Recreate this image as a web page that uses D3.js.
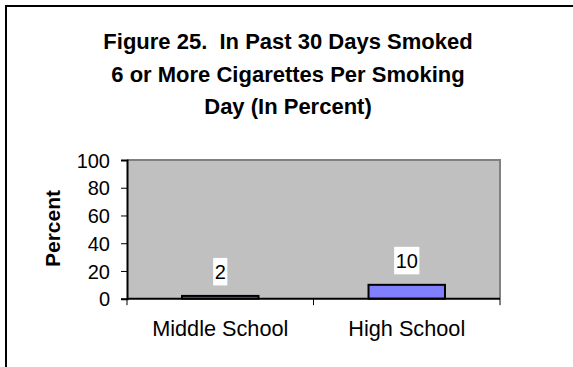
<!DOCTYPE html>
<html>
<head>
<meta charset="utf-8">
<script src="https://cdn.jsdelivr.net/npm/d3@7"></script>
<style>
  html, body { margin: 0; padding: 0; background: #fff; }
  svg { display: block; font-family: "Liberation Sans", Arial, sans-serif; }
  .title { white-space: pre; }
</style>
</head>
<body>
<svg id="chart" width="573" height="367"></svg>
<script>
// Chart data
const titleLines = [
  "Figure 25.  In Past 30 Days Smoked",
  "6 or More Cigarettes Per Smoking",
  "Day (In Percent)"
];
const categories = ["Middle School", "High School"];
const values = [2, 10];
const yTicks = [0, 20, 40, 60, 80, 100];
const yLabel = "Percent";

const svg = d3.select("#chart");
const W = 573, H = 367;

// Outer frame (top and left edges visible)
svg.append("rect")
  .attr("x", 6).attr("y", 6)
  .attr("width", W + 10).attr("height", H + 10)
  .attr("fill", "#fff")
  .attr("stroke", "#000")
  .attr("stroke-width", 2);

// Title
svg.append("text")
  .attr("class", "title")
  .attr("text-anchor", "middle")
  .attr("font-weight", "bold")
  .attr("font-size", 22)
  .attr("fill", "#000")
  .selectAll("tspan")
  .data(titleLines)
  .join("tspan")
  .attr("x", 288)
  .attr("y", (d, i) => 49 + i * 32.5)
  .text(d => d);

// Plot area
const plot = { left: 127, right: 500, top: 160, bottom: 298.7 };

const x = d3.scaleBand()
  .domain(categories)
  .range([plot.left, plot.right])
  .paddingInner(0.59)
  .paddingOuter(0.295);

const y = d3.scaleLinear()
  .domain([0, 100])
  .range([plot.bottom, plot.top]);

svg.append("rect")
  .attr("x", plot.left).attr("y", plot.top)
  .attr("width", plot.right - plot.left)
  .attr("height", plot.bottom - plot.top)
  .attr("fill", "#c0c0c0");

// Gray plot border on top and right
svg.append("path")
  .attr("d", `M${plot.left},${plot.top}H${plot.right}V${plot.bottom}`)
  .attr("fill", "none")
  .attr("stroke", "#808080")
  .attr("stroke-width", 2);

// Bars
svg.append("g")
  .selectAll("rect")
  .data(values)
  .join("rect")
  .attr("x", (d, i) => x(categories[i]))
  .attr("y", d => y(d))
  .attr("width", x.bandwidth())
  .attr("height", d => y(0) - y(d))
  .attr("fill", "#8080ff")
  .attr("stroke", "#000")
  .attr("stroke-width", 2);

// Value labels with white backing
const labels = svg.append("g")
  .selectAll("g")
  .data(values)
  .join("g")
  .attr("transform", (d, i) => `translate(${x(categories[i]) + x.bandwidth() / 2},${y(d) - 16.5})`);

labels.append("text")
  .attr("text-anchor", "middle")
  .attr("font-size", 20)
  .attr("fill", "#000")
  .text(d => d)
  .each(function () {
    const bb = this.getBBox();
    d3.select(this.parentNode).insert("rect", "text")
      .attr("x", bb.x - 1.5)
      .attr("y", -21.5)
      .attr("width", bb.width + 3)
      .attr("height", 27.5)
      .attr("fill", "#fff");
  });

// Y axis
const yAxis = svg.append("g")
  .attr("transform", `translate(${plot.left},0)`)
  .call(d3.axisLeft(y).tickValues(yTicks).tickSize(6).tickPadding(11));
yAxis.select(".domain").attr("stroke", "#000").attr("stroke-width", 2);
yAxis.selectAll(".tick line").attr("stroke", "#000");
yAxis.selectAll(".tick text")
  .attr("font-size", 20)
  .attr("font-family", "Liberation Sans, Arial, sans-serif")
  .attr("fill", "#000")
  .attr("dy", "0.36em");

// X axis with boundary ticks between categories
const xAxis = svg.append("g")
  .attr("transform", `translate(0,${plot.bottom})`);
xAxis.append("line")
  .attr("x1", plot.left).attr("x2", plot.right)
  .attr("stroke", "#000").attr("stroke-width", 2);
const step = x.step();
const boundaries = d3.range(categories.length + 1).map(i => plot.left + i * step);
xAxis.selectAll(".bt")
  .data(boundaries)
  .join("line")
  .attr("x1", d => d).attr("x2", d => d)
  .attr("y1", 0).attr("y2", 6.5)
  .attr("stroke", "#000");
xAxis.selectAll(".cat")
  .data(categories)
  .join("text")
  .attr("x", d => x(d) + x.bandwidth() / 2)
  .attr("y", 37.5)
  .attr("text-anchor", "middle")
  .attr("font-size", 21.7)
  .attr("fill", "#000")
  .text(d => d);

// Y axis title
svg.append("text")
  .attr("transform", `translate(60,228.5) rotate(-90)`)
  .attr("text-anchor", "middle")
  .attr("font-weight", "bold")
  .attr("font-size", 21)
  .attr("fill", "#000")
  .text(yLabel);
</script>
</body>
</html>
